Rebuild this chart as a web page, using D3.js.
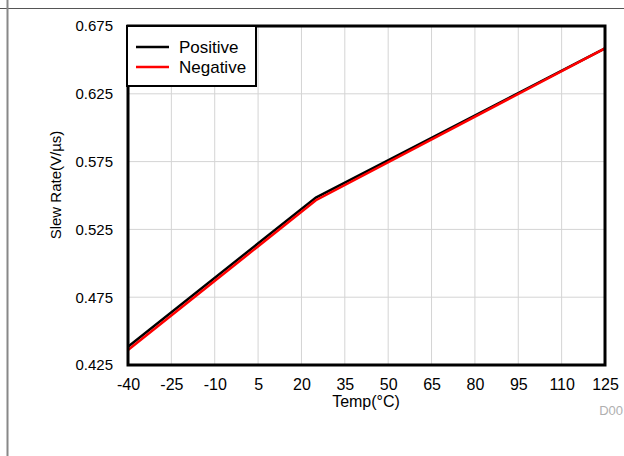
<!DOCTYPE html>
<html><head><meta charset="utf-8">
<script src="https://cdn.jsdelivr.net/npm/d3@7"></script>
<style>body{margin:0;background:#fff}svg{display:block;font-family:Arial,"Liberation Sans",sans-serif}</style>
</head><body>
<svg id="c" width="624" height="456"></svg>
<script>
const xTicks = [-40,-25,-10,5,20,35,50,65,80,95,110,125];
const yTicks = [0.425,0.475,0.525,0.575,0.625,0.675];
const temps = [-40, 25, 125];
const positive = [0.4385, 0.5485, 0.6585];
const negative = [0.4360, 0.5465, 0.6585];
const seriesNames = ["Positive","Negative"];
const seriesColors = ["#000000","#ff0000"];

const svg = d3.select("#c");
const L=128, R=605, T=26, B=365;
const x = d3.scaleLinear().domain([-40,125]).range([L,R]);
const y = d3.scaleLinear().domain([0.425,0.675]).range([B,T]);
const FF = "Arial, 'Liberation Sans', sans-serif";

// outer page lines
svg.append("line").attr("x1",0).attr("x2",624).attr("y1",8.5).attr("y2",8.5).attr("stroke","#555").attr("stroke-width",1);
svg.append("line").attr("x1",7.5).attr("x2",7.5).attr("y1",0).attr("y2",456).attr("stroke","#888").attr("stroke-width",2);

// grid
svg.append("g").selectAll("line").data(xTicks.slice(1,-1)).join("line")
  .attr("x1",d=>x(d)).attr("x2",d=>x(d)).attr("y1",T).attr("y2",B).attr("stroke","#d4d4d4").attr("stroke-width",1);
svg.append("g").selectAll("line").data(yTicks.slice(1,-1)).join("line")
  .attr("y1",d=>y(d)).attr("y2",d=>y(d)).attr("x1",L).attr("x2",R).attr("stroke","#d4d4d4").attr("stroke-width",1);

// axes
const xa = svg.append("g").attr("transform",`translate(0,${B})`)
  .call(d3.axisBottom(x).tickValues(xTicks).tickSize(0).tickPadding(14).tickFormat(d=>String(d)));
xa.select(".domain").remove();
xa.selectAll("text").attr("font-size",16).attr("fill","#000").attr("font-family",FF);
const ya = svg.append("g").attr("transform",`translate(${L},0)`)
  .call(d3.axisLeft(y).tickValues(yTicks).tickSize(0).tickPadding(15).tickFormat(d3.format(".3f")));
ya.select(".domain").remove();
ya.selectAll("text").attr("font-size",15).attr("fill","#000").attr("font-family",FF);

// lines
const line = d3.line().x((d,i)=>x(temps[i])).y(d=>y(d));
[positive,negative].forEach((s,k)=>{
  svg.append("path").datum(s).attr("d",line).attr("fill","none")
    .attr("stroke",seriesColors[k]).attr("stroke-width",2.5);
});

// frame
svg.append("rect").attr("x",L).attr("y",T).attr("width",R-L).attr("height",B-T)
  .attr("fill","none").attr("stroke","#000").attr("stroke-width",3);

// legend
svg.append("rect").attr("x",127).attr("y",26).attr("width",129).attr("height",60)
  .attr("fill","#fff").attr("stroke","#000").attr("stroke-width",2);
seriesNames.forEach((n,k)=>{
  const yy = 47 + k*20;
  svg.append("line").attr("x1",136).attr("x2",169).attr("y1",yy).attr("y2",yy)
    .attr("stroke",seriesColors[k]).attr("stroke-width",2.5);
  svg.append("text").attr("x",179).attr("y",yy+6).attr("font-size",17).text(n);
});

// axis titles
svg.append("text").attr("x",366).attr("y",407).attr("text-anchor","middle").attr("font-size",16).text("Temp(°C)");
svg.append("text").attr("transform",`translate(61,185) rotate(-90)`).attr("text-anchor","middle")
  .attr("font-size",15).text("Slew Rate(V/µs)");
svg.append("text").attr("x",623).attr("y",415).attr("text-anchor","end").attr("font-size",13).attr("fill","#b0b0b0").text("D00");
</script>
</body></html>
